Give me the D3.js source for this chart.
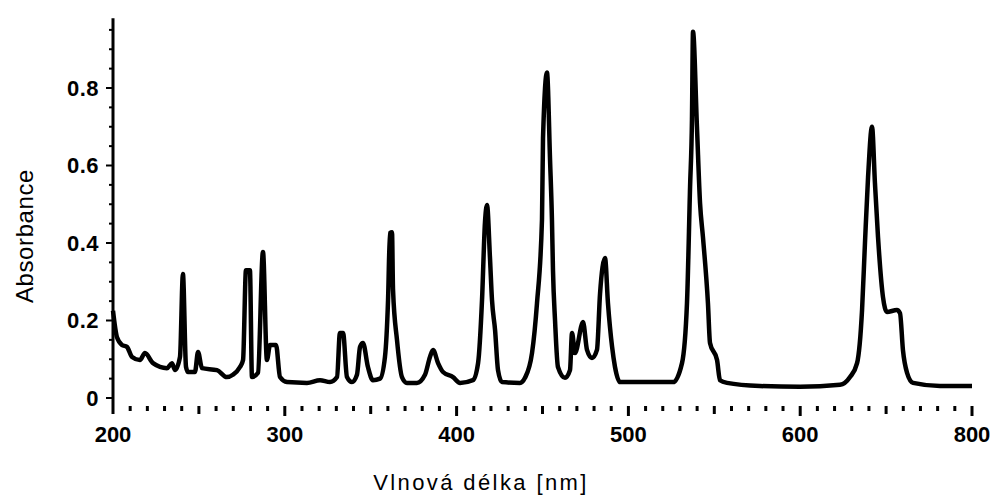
<!DOCTYPE html>
<html>
<head>
<meta charset="utf-8">
<script src="https://cdn.jsdelivr.net/npm/d3@7"></script>
<style>
  html, body { margin: 0; padding: 0; background: #fff; }
  svg { display: block; }
</style>
</head>
<body>
<script>
"use strict";

var wavelength = [
  200.0, 202.3, 205.2, 208.1, 211.1, 215.7, 218.6, 223.3, 231.4, 234.3,
  236.1, 239.0, 240.7, 242.5, 243.7, 247.7, 249.5, 251.8, 260.5, 266.3,
  269.8, 273.9, 275.7, 277.4, 279.7, 280.9, 284.4, 287.3, 289.6, 291.4,
  294.9, 297.2, 301.3, 312.9, 320.5, 326.3, 330.4, 332.1, 333.9, 336.2,
  339.1, 342.0, 343.8, 345.5, 348.4, 351.3, 355.4, 358.3, 360.1, 361.2,
  362.4, 363.0, 365.3, 368.2, 371.1, 376.9, 381.6, 384.5, 386.3, 389.2,
  392.1, 397.9, 402.0, 409.5, 412.5, 414.8, 416.5, 417.7, 419.4, 420.6,
  422.4, 424.1, 426.4, 436.9, 439.8, 443.9, 446.8, 449.7, 450.3, 452.6,
  454.4, 455.5, 456.1, 457.3, 459.0, 463.1, 466.0, 467.2, 468.9, 473.6,
  475.9, 478.8, 481.7, 483.5, 486.4, 488.1, 490.5, 492.2, 495.1, 526.0,
  531.2, 534.1, 535.9, 537.0, 537.6, 539.9, 541.7, 543.4, 546.3, 547.5,
  551.6, 553.3, 557.4, 576.6, 599.9, 623.2, 629.0, 633.1, 636.0, 637.7,
  639.5, 641.8, 643.5, 645.3, 648.2, 650.5, 656.3, 658.1, 659.8, 662.2,
  665.7, 681.4, 700.0
];

var absorbance = [
  0.225, 0.157, 0.137, 0.132, 0.106, 0.098, 0.116, 0.090, 0.077, 0.090,
  0.072, 0.106, 0.320, 0.080, 0.067, 0.067, 0.119, 0.077, 0.072, 0.054,
  0.060, 0.080, 0.098, 0.330, 0.330, 0.054, 0.065, 0.377, 0.098, 0.137,
  0.137, 0.054, 0.041, 0.039, 0.046, 0.041, 0.054, 0.168, 0.168, 0.054,
  0.041, 0.060, 0.132, 0.142, 0.080, 0.046, 0.050, 0.106, 0.253, 0.426,
  0.428, 0.279, 0.150, 0.054, 0.039, 0.039, 0.060, 0.106, 0.124, 0.090,
  0.067, 0.054, 0.039, 0.046, 0.090, 0.253, 0.452, 0.498, 0.364, 0.253,
  0.175, 0.072, 0.041, 0.039, 0.052, 0.116, 0.245, 0.460, 0.670, 0.840,
  0.614, 0.460, 0.330, 0.200, 0.080, 0.052, 0.072, 0.168, 0.116, 0.196,
  0.124, 0.103, 0.124, 0.270, 0.361, 0.245, 0.132, 0.080, 0.041, 0.041,
  0.090, 0.245, 0.545, 0.720, 0.945, 0.700, 0.503, 0.415, 0.245, 0.142,
  0.098, 0.046, 0.039, 0.031, 0.029, 0.034, 0.054, 0.090, 0.227, 0.400,
  0.570, 0.700, 0.555, 0.415, 0.260, 0.222, 0.227, 0.219, 0.124, 0.065,
  0.039, 0.031, 0.031
];

var xTickValues = [200, 300, 400, 500, 600, 700];
var xTickLabels = ["200", "300", "400", "500", "600", "800"];
var yTickValues = [0, 0.2, 0.4, 0.6, 0.8];
var yTickLabels = ["0", "0.2", "0.4", "0.6", "0.8"];

var width = 998;
var height = 499;
var font = "Liberation Sans, Arial, sans-serif";

var x = d3.scaleLinear().domain([200, 700]).range([113, 972]);
var y = d3.scaleLinear().domain([0, 0.8]).range([398, 88]);

var svg = d3.select("body")
  .append("svg")
  .attr("width", width)
  .attr("height", height);

var points = wavelength.map(function (w, i) { return [w, absorbance[i]]; });

// spectrum
svg.append("path")
  .datum(points)
  .attr("fill", "none")
  .attr("stroke", "#000")
  .attr("stroke-width", 4.5)
  .attr("stroke-linejoin", "round")
  .attr("d", d3.line()
    .curve(d3.curveMonotoneX)
    .x(function (d) { return x(d[0]); })
    .y(function (d) { return y(d[1]); }));

// y axis line + ticks
svg.append("line")
  .attr("x1", x(200)).attr("x2", x(200))
  .attr("y1", y(0.98)).attr("y2", 414)
  .attr("stroke", "#000").attr("stroke-width", 3);

svg.selectAll(".ytick")
  .data(d3.range(0, 0.951, 0.05))
  .enter()
  .append("line")
  .attr("class", "ytick")
  .attr("x1", function (d, i) { return x(200) - (i % 4 === 0 ? 7 : 4); })
  .attr("x2", x(200))
  .attr("y1", function (d) { return y(d); })
  .attr("y2", function (d) { return y(d); })
  .attr("stroke", "#000").attr("stroke-width", 2);

svg.selectAll(".ylabel")
  .data(yTickValues)
  .enter()
  .append("text")
  .attr("class", "ylabel")
  .attr("x", 99)
  .attr("y", function (d) { return y(d); })
  .attr("dy", "0.36em")
  .attr("text-anchor", "end")
  .attr("font-family", font)
  .attr("font-weight", "bold")
  .attr("font-size", 22)
  .attr("letter-spacing", 0.5)
  .text(function (d, i) { return yTickLabels[i]; });

// x ticks: a dotted row, no axis line
svg.selectAll(".xtick")
  .data(x.ticks(50).slice(1))
  .enter()
  .append("line")
  .attr("class", "xtick")
  .attr("x1", function (d) { return x(d); })
  .attr("x2", function (d) { return x(d); })
  .attr("y1", 406)
  .attr("y2", function (d) { return d % 100 === 0 ? 416 : (d % 50 === 0 ? 414 : 411); })
  .attr("stroke", "#000").attr("stroke-width", 3);

svg.selectAll(".xlabel")
  .data(xTickValues)
  .enter()
  .append("text")
  .attr("class", "xlabel")
  .attr("x", function (d) { return x(d); })
  .attr("y", 442)
  .attr("text-anchor", "middle")
  .attr("font-family", font)
  .attr("font-weight", "bold")
  .attr("font-size", 22)
  .text(function (d, i) { return xTickLabels[i]; });

// axis titles
svg.append("text")
  .attr("x", 481)
  .attr("y", 490)
  .attr("text-anchor", "middle")
  .attr("font-family", font)
  .attr("font-size", 22)
  .attr("letter-spacing", 2.4)
  .text("Vlnová délka [nm]");

svg.append("text")
  .attr("transform", "translate(33,236) rotate(-90)")
  .attr("text-anchor", "middle")
  .attr("font-family", font)
  .attr("font-size", 24)
  .attr("letter-spacing", 0.6)
  .text("Absorbance");
</script>
</body>
</html>
